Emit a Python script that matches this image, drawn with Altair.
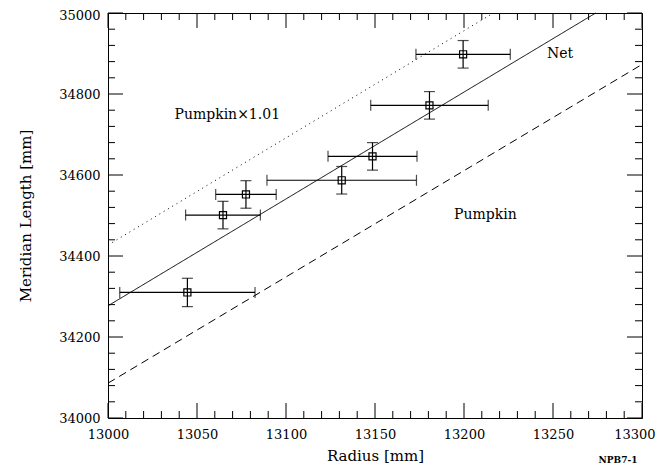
import altair as alt
import pandas as pd

# ---- data ----
radius = [13044.6, 13064.6, 13077.5, 13131.3, 13148.6, 13180.6, 13199.5]
meridian = [34310, 34501, 34552, 34587, 34646, 34772, 34898]
radius_err = [38, 21, 17, 42, 25, 33, 26.5]
meridian_err = [35, 34, 34, 34, 34, 34, 34]

# model lines (end points where they meet the frame)
net_r = [13000, 13274]
net_l = [34277, 35000]
pumpkin_r = [13000, 13300]
pumpkin_l = [34086, 34873]
pumpkin101_r = [13000, 13216.5]
pumpkin101_l = [34427, 35000]

label_text = ["Pumpkin\u00d71.01", "Net", "Pumpkin"]
label_r = [13067, 13254, 13212]
label_l = [34748, 34899, 34501]

x_major = [13000, 13050, 13100, 13150, 13200, 13250, 13300]
x_minor = [13010, 13020, 13030, 13040, 13060, 13070, 13080, 13090,
           13110, 13120, 13130, 13140, 13160, 13170, 13180, 13190,
           13210, 13220, 13230, 13240, 13260, 13270, 13280, 13290]
y_major = [34000, 34200, 34400, 34600, 34800, 35000]
y_minor = [34040, 34080, 34120, 34160, 34240, 34280, 34320, 34360,
           34440, 34480, 34520, 34560, 34640, 34680, 34720, 34760,
           34840, 34880, 34920, 34960]

W, H = 534, 405
FONT = "DejaVu Serif"
SW = 1.2

xs = alt.Scale(domain=[13000, 13300], nice=False, zero=False)
ys = alt.Scale(domain=[34000, 35000], nice=False, zero=False)

pts = pd.DataFrame({
    "r": radius, "l": meridian,
    "r_lo": [r - e for r, e in zip(radius, radius_err)],
    "r_hi": [r + e for r, e in zip(radius, radius_err)],
    "l_lo": [l - e for l, e in zip(meridian, meridian_err)],
    "l_hi": [l + e for l, e in zip(meridian, meridian_err)],
})

base = alt.Chart(pts)

xaxis = alt.Axis(values=x_major, format="d", ticks=False, domain=False, grid=False,
                 labelFlush=False, labelOverlap=False,
                 labelAlign=alt.ExprRef(expr="datum.value >= 13300 ? 'right' : 'center'"),
                 labelOffset=alt.ExprRef(expr="datum.value >= 13300 ? 13 : 0"),
                 labelFont=FONT, labelFontSize=13, labelColor="black",
                 labelPadding=10, title="Radius [mm]", titleFont=FONT,
                 titleFontSize=15, titleFontWeight="normal", titleColor="black",
                 titlePadding=7)
yaxis = alt.Axis(values=y_major, format="d", ticks=False, domain=False, grid=False,
                 labelFlush=False, labelOverlap=False,
                 labelOffset=alt.ExprRef(expr="datum.value >= 35000 ? 2 : 0"),
                 labelFont=FONT, labelFontSize=13, labelColor="black",
                 labelPadding=8, title="Meridian Length [mm]", titleFont=FONT,
                 titleFontSize=15, titleFontWeight="normal", titleColor="black",
                 titlePadding=25)

hbar = base.mark_rule(color="black", strokeWidth=SW).encode(
    x=alt.X("r_lo:Q", scale=xs, axis=xaxis),
    x2="r_hi:Q",
    y=alt.Y("l:Q", scale=ys, axis=yaxis),
)
vbar = base.mark_rule(color="black", strokeWidth=SW).encode(
    x=alt.X("r:Q", scale=xs), y=alt.Y("l_lo:Q", scale=ys), y2="l_hi:Q")
cap_lo = base.mark_tick(orient="vertical", size=11, thickness=SW, color="black").encode(
    x=alt.X("r_lo:Q", scale=xs), y=alt.Y("l:Q", scale=ys))
cap_hi = base.mark_tick(orient="vertical", size=11, thickness=SW, color="black").encode(
    x=alt.X("r_hi:Q", scale=xs), y=alt.Y("l:Q", scale=ys))
cap_b = base.mark_tick(orient="horizontal", size=11, thickness=SW, color="black").encode(
    x=alt.X("r:Q", scale=xs), y=alt.Y("l_lo:Q", scale=ys))
cap_t = base.mark_tick(orient="horizontal", size=11, thickness=SW, color="black").encode(
    x=alt.X("r:Q", scale=xs), y=alt.Y("l_hi:Q", scale=ys))
squares = base.mark_point(shape="square", size=50, filled=False, color="black",
                          strokeWidth=SW, opacity=1).encode(
    x=alt.X("r:Q", scale=xs), y=alt.Y("l:Q", scale=ys))


def line(rv, lv, dash):
    df = pd.DataFrame({"r": rv, "l": lv})
    m = alt.Chart(df).mark_line(color="black", strokeWidth=1, strokeDash=dash)
    return m.encode(x=alt.X("r:Q", scale=xs), y=alt.Y("l:Q", scale=ys))


net_line = line(net_r, net_l, [1, 0])
pump_line = line(pumpkin_r, pumpkin_l, [8, 5])
pump101_line = line(pumpkin101_r, pumpkin101_l, [1, 4])

labels = alt.Chart(pd.DataFrame({"t": label_text, "r": label_r, "l": label_l})).mark_text(
    font=FONT, fontSize=14, color="black", align="center", baseline="middle").encode(
    x=alt.X("r:Q", scale=xs), y=alt.Y("l:Q", scale=ys), text="t:N")


def xticks(vals, length):
    df = pd.DataFrame({"v": vals})
    b = alt.Chart(df).mark_rule(color="black", strokeWidth=1)
    bottom = b.encode(x=alt.X("v:Q", scale=xs), y=alt.value(H), y2=alt.value(H - length))
    top = b.encode(x=alt.X("v:Q", scale=xs), y=alt.value(0), y2=alt.value(length))
    return [bottom, top]


def yticks(vals, length):
    df = pd.DataFrame({"v": vals})
    b = alt.Chart(df).mark_rule(color="black", strokeWidth=1)
    left = b.encode(y=alt.Y("v:Q", scale=ys), x=alt.value(0), x2=alt.value(length))
    right = b.encode(y=alt.Y("v:Q", scale=ys), x=alt.value(W), x2=alt.value(W - length))
    return [left, right]


tick_layers = xticks(x_major, 15) + xticks(x_minor, 7) + yticks(y_major, 15) + yticks(y_minor, 7)

tag = alt.Chart(pd.DataFrame({"t": ["NPB7-1"]})).mark_text(
    font=FONT, fontSize=9, fontWeight="bold", color="black", align="center",
    baseline="middle").encode(text="t:N", x=alt.value(510), y=alt.value(447))

chart = alt.layer(
    hbar, vbar, cap_lo, cap_hi, cap_b, cap_t, squares,
    net_line, pump_line, pump101_line, labels, *tick_layers, tag
).properties(
    width=W, height=H,
    autosize=alt.AutoSizeParams(type="none"),
    padding={"left": 100, "top": 5, "right": 14, "bottom": 50},
    background="white",
).configure_view(stroke="black", strokeWidth=1)

chart.save("out.html", embed_options={"renderer": "svg", "actions": False})
